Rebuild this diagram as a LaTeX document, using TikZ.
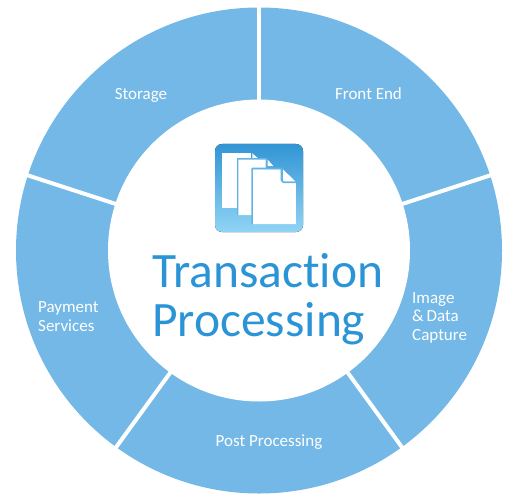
\documentclass[tikz,border=0pt]{standalone}
\usepackage{fontspec}
\usetikzlibrary{calc}
\setmainfont[Ligatures=NoCommon]{Carlito}
\definecolor{ring}{HTML}{73B8E6}
\definecolor{titleblue}{HTML}{2B94D6}
\definecolor{icontop}{HTML}{3295D4}
\definecolor{iconbot}{HTML}{90D4F5}
\definecolor{pageedge}{HTML}{62B4E6}
\tikzset{
  seglabel/.style={text=white,font=\fontsize{17}{18}\selectfont,align=left,inner sep=0pt},
  sep/.style={draw=white,line width=4pt},
  titletext/.style={text=titleblue,font=\fontsize{49.5}{49}\selectfont,align=left,inner sep=0pt},
  page/.style={fill=white,draw=none},
  edge/.style={draw=pageedge,line width=1.5pt,line join=round}
}
\begin{document}
\begin{tikzpicture}[x=1pt,y=1pt]
\useasboundingbox (0,0) rectangle (510,496);
\coordinate (c) at (259,245.5);
% ring
\fill[ring] (c) circle[radius=243];
\fill[white] (c) circle[radius=151];
% separators
\foreach \a in {90,18,-54,-126,162}{
  \draw[sep] ($(c)+(\a:149)$) -- ($(c)+(\a:246)$);
}
% icon
\fill[top color=icontop,bottom color=iconbot,rounded corners=7pt] (215,264) rectangle (303,352);
% back page
\fill[page] (222.3,288.3) -- (222.3,342.7) -- (250.7,342.7) -- (250.7,288.3) -- cycle;
\fill[page] (252.3,342.7) -- (258,337.7) -- (252.3,337.7) -- cycle;
% middle page
\fill[pageedge] (236.8,281) rectangle (258,338.5);
\fill[pageedge] (236.8,325) rectangle (266.8,338.5);
\fill[page] (238.3,281) -- (238.3,336.3) -- (265.7,336.3) -- (265.7,328) -- (252,328) -- (252,281) -- cycle;
\fill[page] (267.7,336.3) -- (273.3,330) -- (267.7,330) -- cycle;
% front page
\fill[page] (253,272) -- (253,326.7) -- (280.6,326.7) -- (280.6,315.5) -- (283,313) -- (295.8,313) -- (295.8,272) -- cycle;
\fill[page] (283,326.7) -- (295.3,314.5) -- (283,314.5) -- cycle;
\draw[edge] (252.2,272) -- (252.2,327.6) -- (281.8,327.6) -- (281.8,315.5) -- (283.5,313.7) -- (296,313.7);
% labels
\node[seglabel] (storage) at (141,401) {Storage};
\node[seglabel] (frontend) at (368.5,402) {Front End};
\node[seglabel,anchor=west] (image) at (412,178.5) {Image\\[.5pt]\&\,Data\\[.5pt]Capture};
\node[seglabel,anchor=west] (payment) at (38,179) {Payment\\[1pt]Services};
\node[seglabel] (post) at (269,54) {Post Processing};
\node[titletext,anchor=west] (title) at (152,197) {Transaction\\Processing};
\end{tikzpicture}
\end{document}
